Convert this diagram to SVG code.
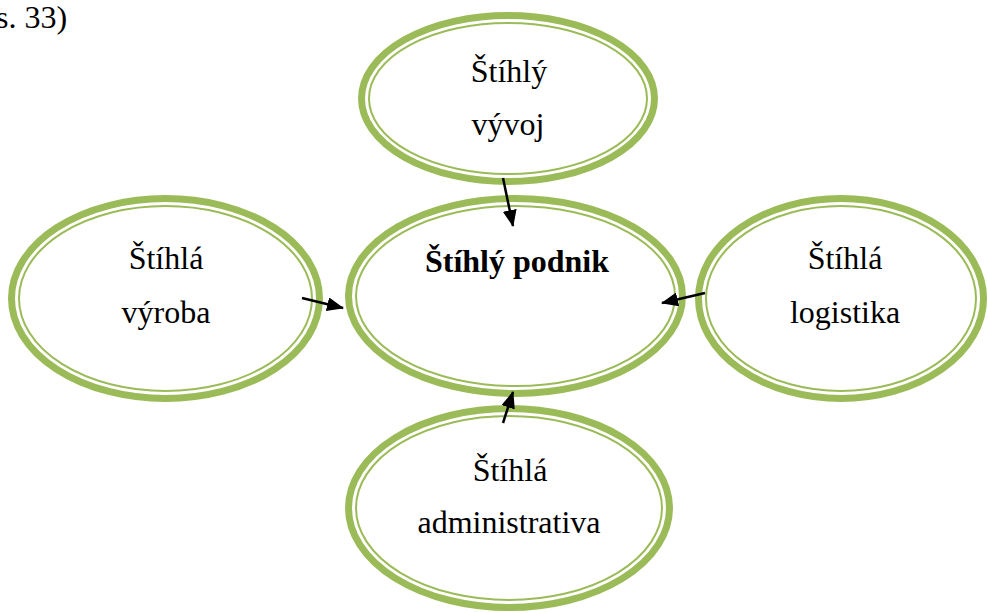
<svg xmlns="http://www.w3.org/2000/svg" width="988" height="613" viewBox="0 0 988 613">
  <style>
    .outer { fill: #ffffff; stroke: #9bbb59; stroke-width: 7; }
    .inner { fill: none; stroke: #9bbb59; stroke-width: 2; }
    .label { font-family: "Liberation Serif", "Times New Roman", serif; font-size: 32px; fill: #000000; text-anchor: middle; }
    .bold { font-weight: bold; }
    .conn { stroke: #000000; stroke-width: 2.5; fill: none; marker-end: url(#head); }
  </style>
  <defs>
    <marker id="head" markerUnits="userSpaceOnUse" markerWidth="18" markerHeight="14" refX="16" refY="7" orient="auto">
      <path d="M0,0 L17,7 L0,14 Z" fill="#000000"/>
    </marker>
  </defs>

  <rect width="988" height="613" fill="#ffffff"/>

  <text class="label" x="-4" y="28" style="text-anchor:start">s. 33)</text>

  <!-- Štíhlý vývoj -->
  <g id="vyvoj">
    <ellipse class="outer" cx="508" cy="98.5" rx="146.5" ry="83"/>
    <ellipse class="inner" cx="508" cy="98.5" rx="139" ry="75.5"/>
    <text class="label" x="509" y="82">Štíhlý</text>
    <text class="label" x="508" y="135">vývoj</text>
  </g>

  <!-- Štíhlá výroba -->
  <g id="vyroba">
    <ellipse class="outer" cx="165.5" cy="298.5" rx="154" ry="100"/>
    <ellipse class="inner" cx="165.5" cy="298.5" rx="146.5" ry="92.5"/>
    <text class="label" x="166" y="269">Štíhlá</text>
    <text class="label" x="166" y="323">výroba</text>
  </g>

  <!-- Štíhlá logistika -->
  <g id="logistika">
    <ellipse class="outer" cx="841" cy="298.5" rx="142.5" ry="100"/>
    <ellipse class="inner" cx="841" cy="298.5" rx="135" ry="92.5"/>
    <text class="label" x="845" y="269">Štíhlá</text>
    <text class="label" x="845" y="323">logistika</text>
  </g>

  <!-- Štíhlá administrativa -->
  <g id="administrativa">
    <ellipse class="outer" cx="509" cy="508" rx="160.5" ry="99.5"/>
    <ellipse class="inner" cx="509" cy="508" rx="153" ry="92"/>
    <text class="label" x="510" y="481">Štíhlá</text>
    <text class="label" x="509" y="533">administrativa</text>
  </g>

  <!-- Štíhlý podnik (centre) -->
  <g id="podnik">
    <ellipse class="outer" cx="515.5" cy="296" rx="167" ry="97.5"/>
    <ellipse class="inner" cx="515.5" cy="296" rx="159.5" ry="90"/>
    <text class="label bold" x="517" y="272">Štíhlý podnik</text>
  </g>

  <!-- connectors towards the centre -->
  <g id="connectors">
    <line class="conn" x1="503" y1="178" x2="513" y2="226"/>
    <line class="conn" x1="302" y1="298" x2="343" y2="308"/>
    <line class="conn" x1="705" y1="293" x2="662" y2="303"/>
    <line class="conn" x1="503" y1="423" x2="513" y2="392"/>
  </g>
</svg>
